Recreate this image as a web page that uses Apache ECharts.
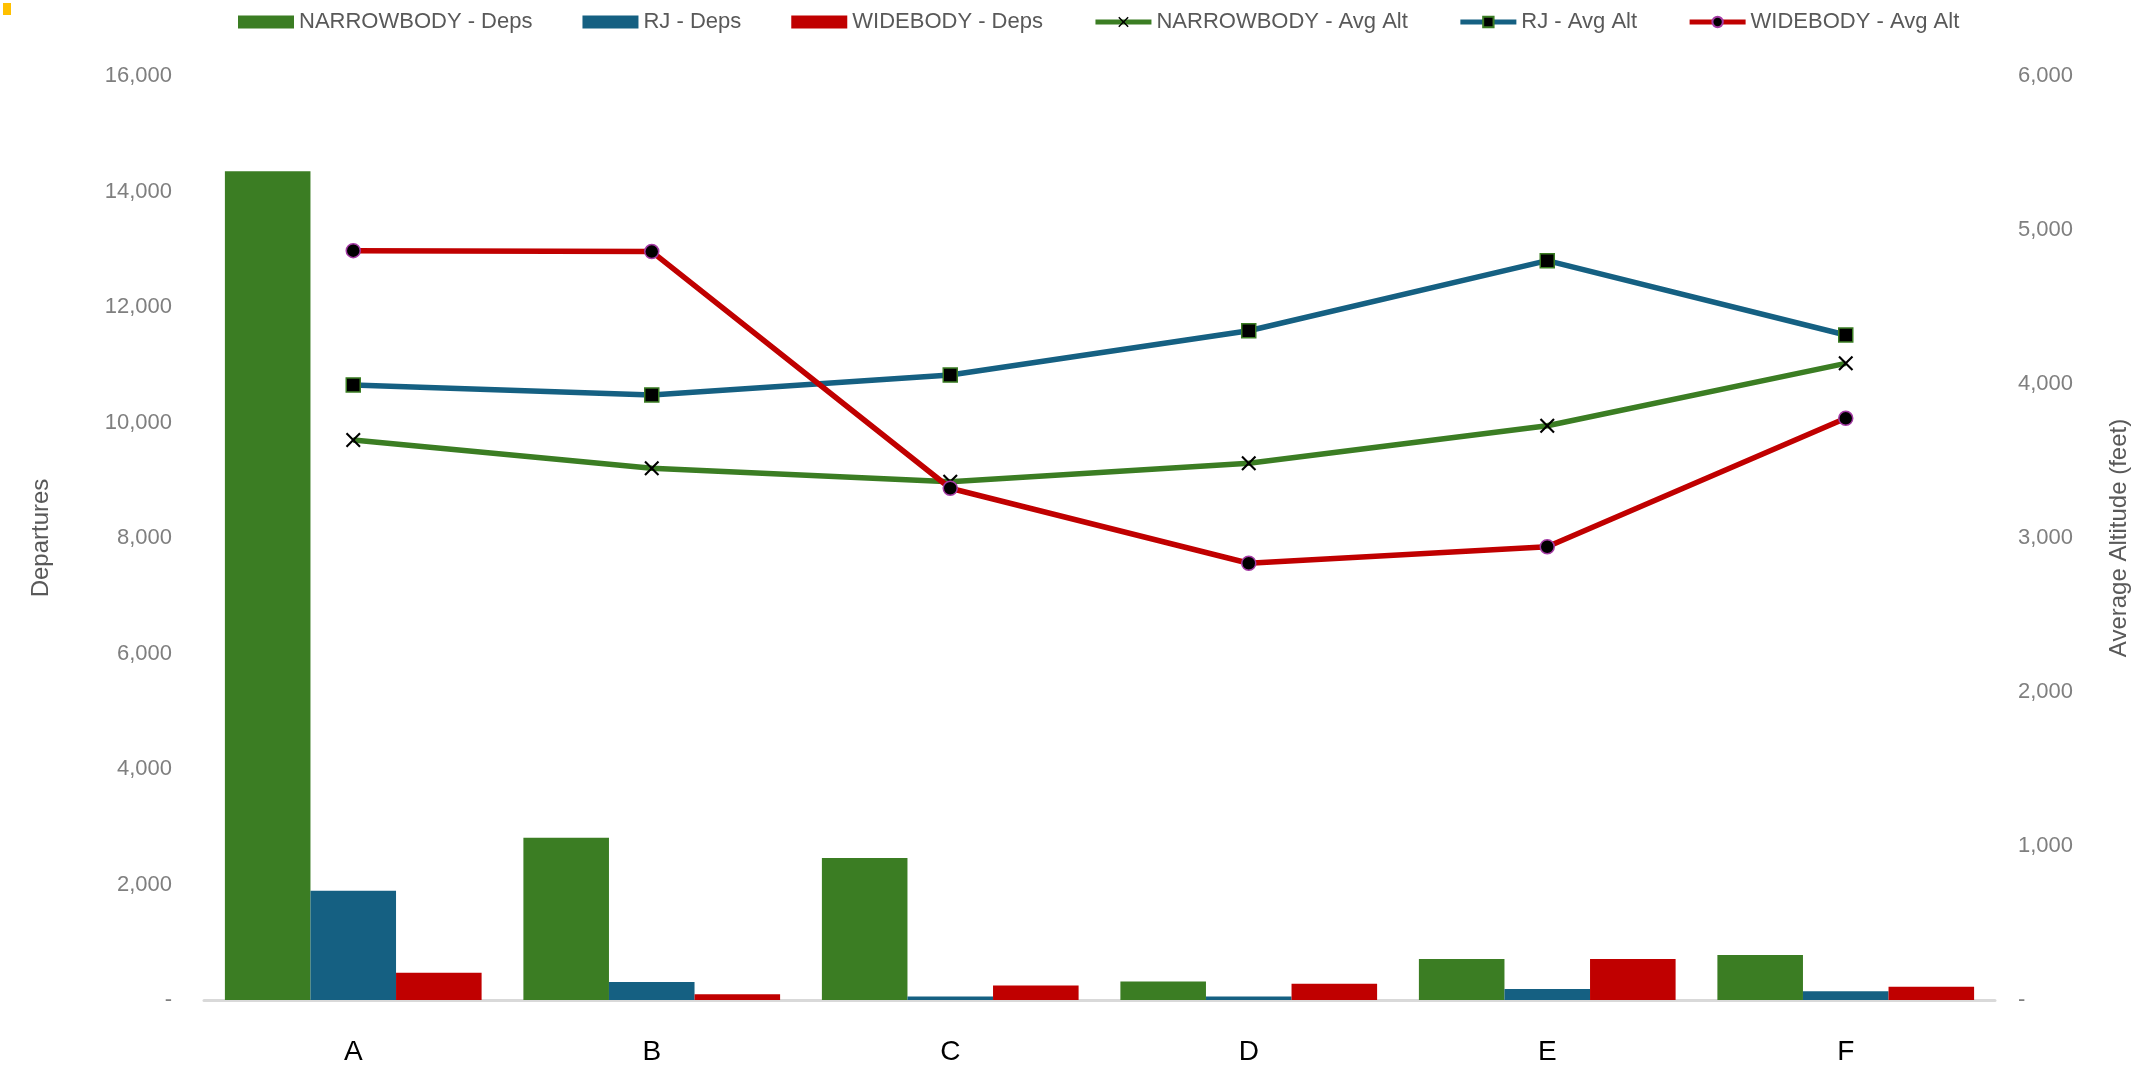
<!DOCTYPE html>
<html>
<head>
<meta charset="utf-8">
<title>Departures and Average Altitude by Aircraft Type</title>
<script src="https://cdn.jsdelivr.net/npm/echarts@6/dist/echarts.min.js"></script>
<style>
  html, body { margin: 0; padding: 0; background: #ffffff; }
  #chart { width: 2131px; height: 1065px; }
</style>
</head>
<body>
<div id="chart"></div>
<script>
// Categories along the x axis
const categories = ['A', 'B', 'C', 'D', 'E', 'F'];

// Departures (left axis)
const narrowbodyDeps = [14350, 2810, 2460, 320, 710, 780];
const rjDeps = [1890, 310, 60, 60, 190, 150];
const widebodyDeps = [470, 100, 250, 280, 710, 230];

// Average altitude in feet (right axis)
const narrowbodyAlt = [3636, 3453, 3366, 3485, 3729, 4134];
const rjAlt = [3994, 3929, 4058, 4346, 4801, 4318];
const widebodyAlt = [4866, 4860, 3323, 2836, 2943, 3777];

// Series names shown in the legend
const seriesNames = [
  'NARROWBODY - Deps', 'RJ - Deps', 'WIDEBODY - Deps',
  'NARROWBODY - Avg Alt', 'RJ - Avg Alt', 'WIDEBODY - Avg Alt'
];

const GREEN = '#3B7D23';
const BLUE = '#156082';
const RED = '#C00000';
const FONT = "'Liberation Sans', Arial, sans-serif";

// Thin "x" marker drawn as a filled outline
const crossSymbol = 'path://M1,0 L5,4 L9,0 L10,1 L6,5 L10,9 L9,10 L5,6 L1,10 L0,9 L4,5 L0,1 Z';

const fmt = v => (v === 0 ? '-' : v.toLocaleString('en-US'));

const chart = echarts.init(document.getElementById('chart'), null, { renderer: 'canvas' });

const barSeries = (name, data, color) => ({
  name,
  type: 'bar',
  yAxisIndex: 0,
  data,
  barGap: '0%',
  barCategoryGap: '14%',
  itemStyle: { color },
  emphasis: { disabled: true }
});

const lineSeries = (name, data, color, symbol, symbolSize, itemStyle) => ({
  name,
  type: 'line',
  yAxisIndex: 1,
  data,
  symbol,
  symbolSize,
  showAllSymbol: true,
  lineStyle: { color, width: 5.5 },
  itemStyle,
  z: 5,
  emphasis: { disabled: true }
});

chart.setOption({
  animation: false,
  backgroundColor: '#ffffff',
  textStyle: { fontFamily: FONT },
  grid: {
    left: 204, right: 136, top: 76, bottom: 65,
    containLabel: false,
    outerBoundsMode: 'none'
  },
  legend: {
    data: [
      { name: seriesNames[0], icon: 'rect' },
      { name: seriesNames[1], icon: 'rect' },
      { name: seriesNames[2], icon: 'rect' },
      { name: seriesNames[3] },
      { name: seriesNames[4] },
      { name: seriesNames[5] }
    ],
    left: 233,
    top: 6,
    itemWidth: 56,
    itemHeight: 13,
    itemGap: 50,
    lineStyle: { width: 5 },
    textStyle: { color: '#595959', fontSize: 22, fontFamily: FONT }
  },
  xAxis: {
    type: 'category',
    data: categories,
    axisLine: { show: true, lineStyle: { color: '#D9D9D9', width: 3 } },
    axisTick: { show: false },
    axisLabel: { color: '#000000', fontSize: 28, margin: 38, fontFamily: FONT },
    splitLine: { show: false }
  },
  yAxis: [
    {
      type: 'value',
      min: 0,
      max: 16000,
      interval: 2000,
      name: 'Departures',
      nameLocation: 'middle',
      nameRotate: 90,
      nameGap: 151,
      nameTextStyle: { color: '#595959', fontSize: 24, fontFamily: FONT },
      axisLine: { show: false },
      axisTick: { show: false },
      splitLine: { show: false },
      axisLabel: { color: '#7F7F7F', fontSize: 22, margin: 32, formatter: fmt, fontFamily: FONT }
    },
    {
      type: 'value',
      min: 0,
      max: 6000,
      interval: 1000,
      position: 'right',
      name: 'Average Altitude (feet)',
      nameLocation: 'middle',
      nameRotate: 90,
      nameGap: 112,
      nameTextStyle: { color: '#595959', fontSize: 24, fontFamily: FONT },
      axisLine: { show: false },
      axisTick: { show: false },
      splitLine: { show: false },
      axisLabel: { color: '#7F7F7F', fontSize: 22, margin: 23, formatter: fmt, fontFamily: FONT }
    }
  ],
  series: [
    barSeries(seriesNames[0], narrowbodyDeps, GREEN),
    barSeries(seriesNames[1], rjDeps, BLUE),
    barSeries(seriesNames[2], widebodyDeps, RED),
    lineSeries(seriesNames[3], narrowbodyAlt, GREEN, crossSymbol, 15,
      { color: '#000000', borderWidth: 0 }),
    lineSeries(seriesNames[4], rjAlt, BLUE, 'rect', 14,
      { color: '#000000', borderColor: GREEN, borderWidth: 1.5 }),
    lineSeries(seriesNames[5], widebodyAlt, RED, 'circle', 14,
      { color: '#000000', borderColor: '#A53BA5', borderWidth: 1.5 })
  ],
  graphic: [
    {
      type: 'rect',
      left: 3,
      top: 3,
      shape: { width: 8, height: 12 },
      style: { fill: '#FFC000' },
      silent: true
    }
  ]
});
</script>
</body>
</html>
